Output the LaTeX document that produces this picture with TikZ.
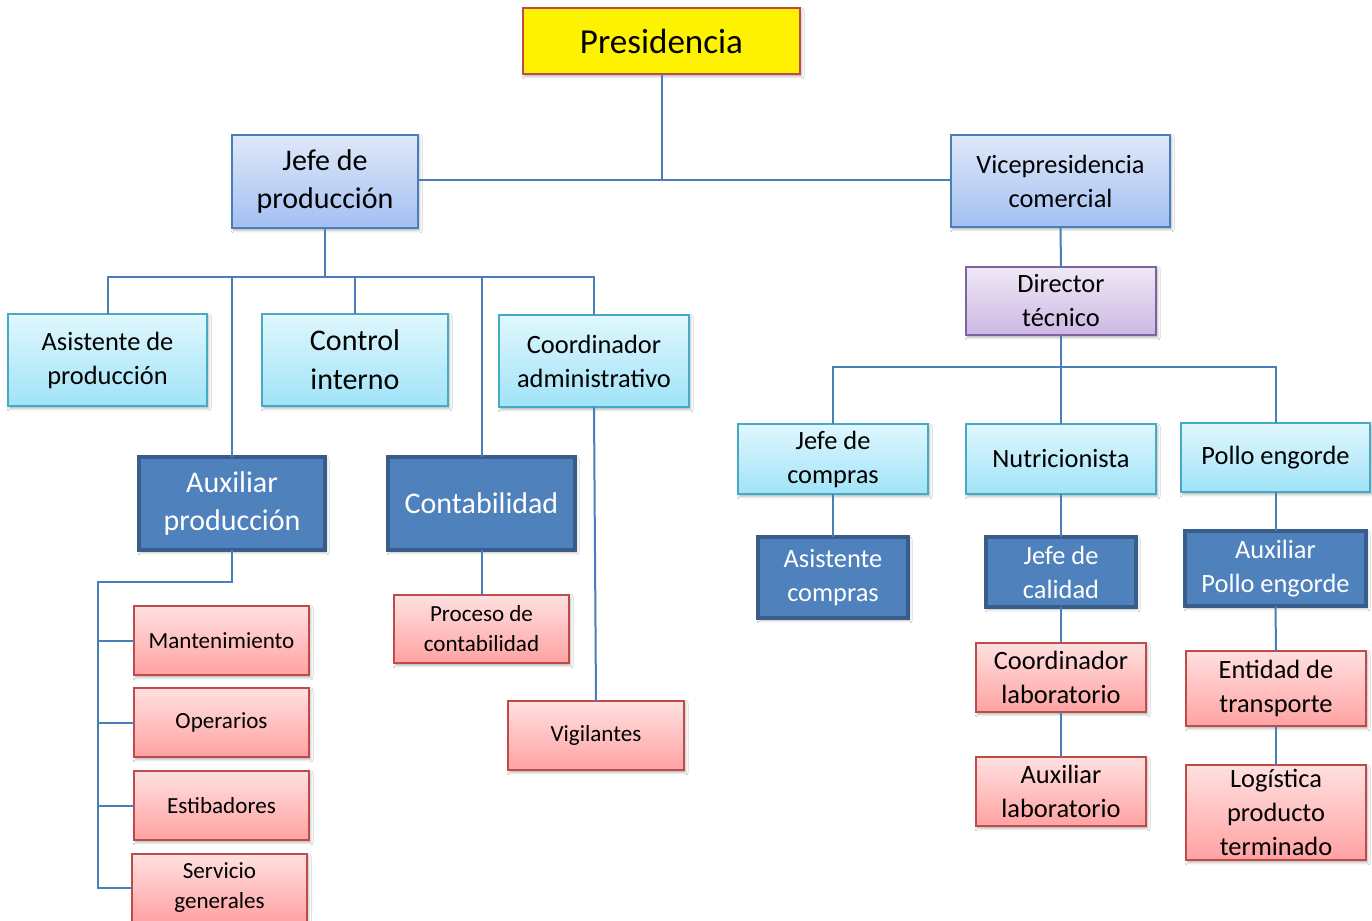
\documentclass[tikz,border=0pt]{standalone}
\usepackage{fontspec}
\setmainfont{Carlito}
\usetikzlibrary{shadows.blur}
\definecolor{cBlueLine}{HTML}{4A7EBB}
\definecolor{cRedLine}{HTML}{BE4B48}
\definecolor{cCyanLine}{HTML}{46AAC5}
\definecolor{cPurpLine}{HTML}{7E62A1}
\definecolor{cDarkFill}{HTML}{4F81BD}
\definecolor{cDarkLine}{HTML}{385D8A}
\definecolor{cLBtop}{HTML}{DFE8F9}
\definecolor{cLBbot}{HTML}{A3C0F2}
\definecolor{cCYtop}{HTML}{E0F7FD}
\definecolor{cCYbot}{HTML}{A0E3F8}
\definecolor{cPUtop}{HTML}{EFE8F6}
\definecolor{cPUbot}{HTML}{CCB8E2}
\definecolor{cRDtop}{HTML}{FFE0E0}
\definecolor{cRDbot}{HTML}{FFA2A2}
\newcommand\fsA{\fontsize{26.3pt}{31pt}\selectfont}
\newcommand\fsB{\fontsize{22.5pt}{29pt}\selectfont}
\newcommand\fsC{\fontsize{19.8pt}{25.5pt}\selectfont}
\newcommand\fsD{\fontsize{17.3pt}{22.5pt}\selectfont}
\newcommand\ob[7]{\node[#1, minimum width={(#4-#2)*0.75pt}, minimum height={(#5-#3)*0.75pt}] (#6) at ({(#2+#4)/2},{(#3+#5)/2}) {#7};}
\tikzset{
  base/.style={rectangle, inner sep=0pt, outer sep=0pt, align=center,
    blur shadow={shadow xshift=1.2pt, shadow yshift=-1.8pt, shadow opacity=30, shadow blur steps=4}},
  yel/.style={base, fill=yellow, draw=cRedLine, line width=1.5pt, font=\fsA},
  lblue/.style={base, top color=cLBtop, bottom color=cLBbot, draw=cBlueLine, line width=1.5pt},
  cyanb/.style={base, top color=cCYtop, bottom color=cCYbot, draw=cCyanLine, line width=1.5pt},
  purp/.style={base, top color=cPUtop, bottom color=cPUbot, draw=cPurpLine, line width=1.5pt, font=\fsC},
  dark/.style={base, fill=cDarkFill, draw=cDarkLine, line width=2.3pt, text=white},
  redb/.style={base, top color=cRDtop, bottom color=cRDbot, draw=cRedLine, line width=1.5pt},
  conn/.style={draw=cBlueLine, line width=1.5pt}
}
\begin{document}
\begin{tikzpicture}[x=0.75pt, y=-0.75pt]
\clip (0,0) rectangle (1372,921);
\fill[white] (0,0) rectangle (1372,921);
% coordinates for bus lines
\coordinate (h0) at (0,180);
\coordinate (h1) at (0,277);
\coordinate (sp1) at (98,582);
\coordinate (sp2) at (98,888);
\coordinate (h2) at (0,367);
% nodes
\ob{yel}{523}{8}{800}{74}{pres}{Presidencia}
\ob{lblue,font=\fsB}{232}{135}{418}{228}{jp}{Jefe de\\producción}
\ob{lblue,font=\fsC}{951}{135}{1170}{227}{vc}{Vicepresidencia\\comercial}
\ob{purp}{966}{267}{1156}{335}{dt}{Director\\técnico}
\ob{cyanb,font=\fsC}{8}{314}{207}{406}{ap}{Asistente de\\producción}
\ob{cyanb,font=\fsB}{262}{314}{448}{406}{ci}{Control\\interno}
\ob{cyanb,font=\fsC}{499}{315}{689}{407}{ca}{Coordinador\\administrativo}
\ob{dark,font=\fsB}{139}{457}{325}{550}{aux}{Auxiliar\\producción}
\ob{dark,font=\fsB}{388}{457}{575}{550}{cont}{Contabilidad}
\ob{redb,font=\fsD}{134}{606}{309}{675}{mant}{Mantenimiento}
\ob{redb,font=\fsD}{134}{688}{309}{757}{oper}{Operarios}
\ob{redb,font=\fsD}{134}{771}{309}{840}{est}{Estibadores}
\ob{redb,font=\fsD}{132}{854}{307}{922}{serv}{Servicio\\generales}
\ob{redb,font=\fsD}{394}{595}{569}{663}{pc}{Proceso de\\contabilidad}
\ob{redb,font=\fsD}{508}{701}{684}{770}{vig}{Vigilantes}
\ob{cyanb,font=\fsC}{738}{424}{928}{494}{jc}{Jefe de\\compras}
\ob{cyanb,font=\fsC}{966}{424}{1156}{494}{nu}{Nutricionista}
\ob{cyanb,font=\fsC}{1181}{423}{1370}{492}{pe}{Pollo engorde}
\ob{dark,font=\fsC}{758}{537}{908}{618}{ac}{Asistente\\compras}
\ob{dark,font=\fsC}{986}{537}{1136}{607}{jca}{Jefe de\\calidad}
\ob{dark,font=\fsC}{1185}{531}{1366}{606}{ape}{Auxiliar\\Pollo engorde}
\ob{redb,font=\fsC}{976}{643}{1146}{712}{cl}{Coordinador\\laboratorio}
\ob{redb,font=\fsC}{976}{757}{1146}{826}{al}{Auxiliar\\laboratorio}
\ob{redb,font=\fsC}{1186}{651}{1366}{726}{et}{Entidad de\\transporte}
\ob{redb,font=\fsC}{1186}{765}{1366}{860}{lpt}{Logística\\producto\\terminado}
% connectors
\draw[conn] (pres.south) -- (pres.south |- h0);
\draw[conn] (jp.east |- h0) -- (vc.west |- h0);
\draw[conn] (jp.south) -- (jp.south |- h1);
\draw[conn] (ap.north) -- (ap.north |- h1) -- (ca.north |- h1) -- (ca.north);
\draw[conn] (ci.north) -- (ci.north |- h1);
\draw[conn] (aux.north) -- (aux.north |- h1);
\draw[conn] (cont.north) -- (cont.north |- h1);
\draw[conn] (ca.south) -- (vig.north);
\draw[conn] (cont.south) -- (pc.north);
\draw[conn] (aux.south) -- (aux.south |- sp1) -- (sp1) -- (sp2) -- (serv.west);
\draw[conn] (mant.west -| sp1) -- (mant.west);
\draw[conn] (oper.west -| sp1) -- (oper.west);
\draw[conn] (est.west -| sp1) -- (est.west);
\draw[conn] (vc.south) -- (dt.north);
\draw[conn] (dt.south) -- (dt.south |- h2);
\draw[conn] (jc.north) -- (jc.north |- h2) -- (pe.north |- h2) -- (pe.north);
\draw[conn] (nu.north) -- (nu.north |- h2);
\draw[conn] (jc.south) -- (ac.north);
\draw[conn] (nu.south) -- (jca.north);
\draw[conn] (jca.south) -- (cl.north);
\draw[conn] (cl.south) -- (al.north);
\draw[conn] (pe.south) -- (ape.north);
\draw[conn] (ape.south) -- (et.north);
\draw[conn] (et.south) -- (lpt.north);
\end{tikzpicture}
\end{document}
